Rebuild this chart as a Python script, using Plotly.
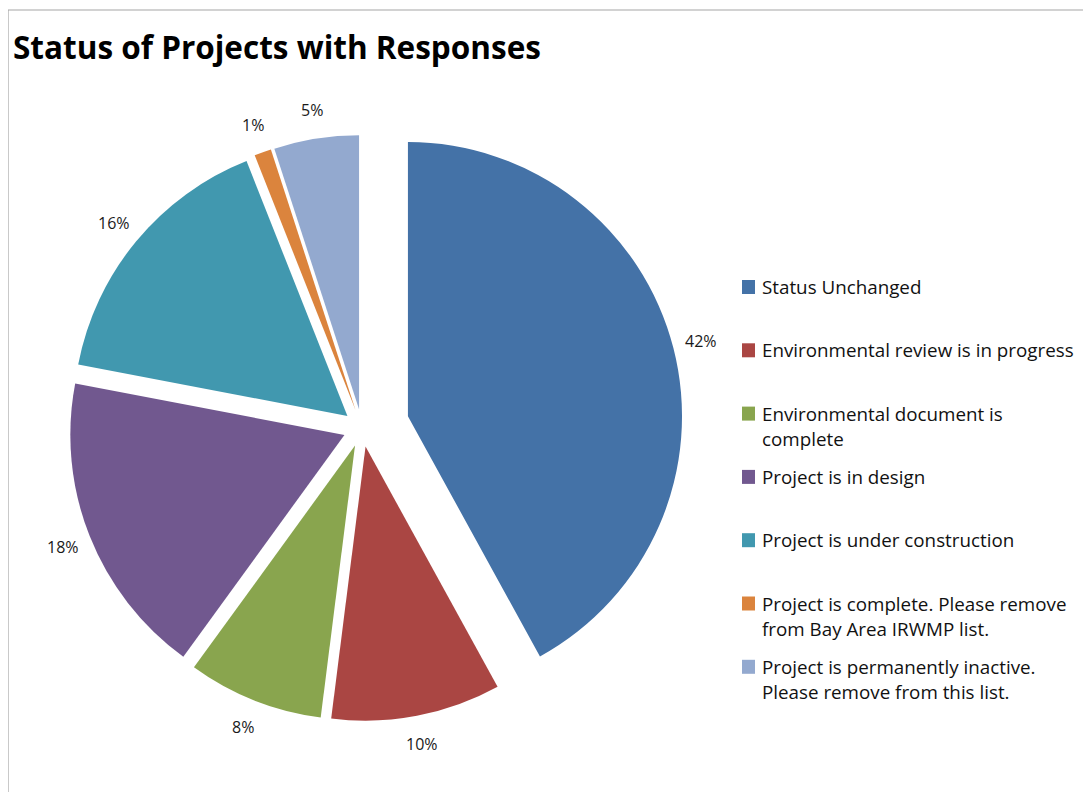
import math
import plotly.graph_objects as go

# ---- data ----
labels = [
    "Status Unchanged",
    "Environmental review is in progress",
    "Environmental document is complete",
    "Project is in design",
    "Project is under construction",
    "Project is complete. Please remove from Bay Area IRWMP list.",
    "Project is permanently inactive. Please remove from this list.",
]
legend_lines = [
    ["Status Unchanged"],
    ["Environmental review is in progress"],
    ["Environmental document is", "complete"],
    ["Project is in design"],
    ["Project is under construction"],
    ["Project is complete. Please remove", "from Bay Area IRWMP list."],
    ["Project is permanently inactive.", "Please remove from this list."],
]
values = [42, 10, 8, 18, 16, 1, 5]
colors = ["#4472A7", "#AA4643", "#89A54E", "#71588F", "#4198AF", "#DB843D", "#93A9CF"]
pulls = [0.173, 0.069, 0.069, 0.069, 0.069, 0.069, 0.069]

W, H = 1091, 792
OFF = 8  # page body offset
FONT = "Open Sans"


def px(x):
    return (x - OFF) / W


def py(y):
    return 1 - (y - OFF) / H


fig = go.Figure()
cx, cy, half = 362, 428, 321.5
fig.add_trace(go.Pie(
    labels=labels,
    values=values,
    sort=False,
    direction="clockwise",
    rotation=0,
    pull=pulls,
    marker=dict(colors=colors, line=dict(width=0)),
    textinfo="none",
    domain=dict(x=[px(cx - half), px(cx + half)], y=[py(cy + half), py(cy - half)]),
    showlegend=False,
    hoverinfo="label+percent",
))

shapes = []
annotations = []

# outside-end data labels, placed along each slice's bisector (same geometry as the pie)
r = half / (1 + max(pulls))
total = sum(values)
cum = 0.0
for v, p in zip(values, pulls):
    mid = (cum + v / 2) / total * 2 * math.pi
    cum += v
    dist = r * (1 + p) + 29
    lx = cx + dist * math.sin(mid)
    ly = cy - dist * math.cos(mid)
    annotations.append(dict(text=f"{v / total:.0%}", xref="paper", yref="paper",
                            x=px(lx), y=py(ly), xanchor="center", yanchor="middle",
                            showarrow=False, font=dict(family=FONT, size=16, color="#1a1a1a")))

# frame
shapes.append(dict(type="rect", xref="paper", yref="paper",
                   x0=px(8), x1=px(1089), y0=-0.05, y1=py(10),
                   line=dict(color="#A6A6A6", width=1.2), fillcolor="rgba(0,0,0,0)"))

# title
annotations.append(dict(text="<b>Status of Projects with Responses</b>", xref="paper", yref="paper",
                        x=px(11), y=py(46), xanchor="left", yanchor="middle",
                        showarrow=False, font=dict(family=FONT, size=31.5, color="#000000")))

# custom legend
row0, step, line_h = 287, 63.3, 25
for i, (lines, col) in enumerate(zip(legend_lines, colors)):
    yc = row0 + i * step
    shapes.append(dict(type="rect", xref="paper", yref="paper",
                       x0=px(742), x1=px(755), y0=py(yc + 7), y1=py(yc - 7),
                       line=dict(width=0), fillcolor=col))
    for j, t in enumerate(lines):
        annotations.append(dict(text=t, xref="paper", yref="paper",
                                x=px(760), y=py(yc + j * line_h),
                                xanchor="left", yanchor="middle", showarrow=False,
                                font=dict(family=FONT, size=18.8, color="#111111")))

fig.update_layout(
    width=W, height=H,
    margin=dict(l=0, r=0, t=0, b=0, autoexpand=False),
    paper_bgcolor="white",
    plot_bgcolor="white",
    shapes=shapes,
    annotations=annotations,
)

fig.write_html("out.html")
